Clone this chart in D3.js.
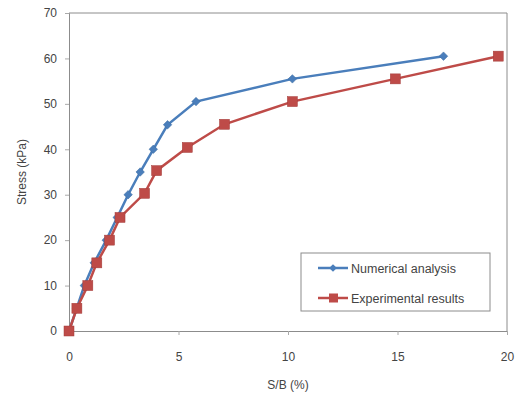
<!DOCTYPE html>
<html>
<head>
<meta charset="utf-8">
<script src="https://cdn.jsdelivr.net/npm/d3@7"></script>
<style>
  body { margin: 0; background: #fff; }
  text { font-family: "Liberation Sans", Arial, sans-serif; fill: #444; }
</style>
</head>
<body>
<div id="chart"></div>
<script>
// data
const numStress = [0, 5, 10, 15, 20, 25, 30, 35, 40, 45.4, 50.5, 55.5, 60.5];
const numSB = [0, 0.35, 0.7, 1.15, 1.7, 2.2, 2.7, 3.25, 3.85, 4.5, 5.8, 10.2, 17.1];
const expStress = [0, 5, 10, 15, 20, 25, 30.3, 35.3, 40.4, 45.5, 50.5, 55.5, 60.5];
const expSB = [0, 0.36, 0.86, 1.27, 1.85, 2.33, 3.45, 4.0, 5.4, 7.1, 10.2, 14.9, 19.6];
const xTicks = [0, 5, 10, 15, 20];
const yTicks = [0, 10, 20, 30, 40, 50, 60, 70];
const seriesNames = ["Numerical analysis", "Experimental results"];

const W = 517, H = 401;
const margin = { left: 69, right: 10, top: 13, bottom: 70 };

const svg = d3.select("#chart")
  .append("svg")
  .attr("width", W)
  .attr("height", H);

const x = d3.scaleLinear().domain([0, 20]).range([margin.left, W - margin.right]);
const y = d3.scaleLinear().domain([0, 70]).range([H - margin.bottom, margin.top]);

// plot frame (top + right)
svg.append("path")
  .attr("d", `M${x(0)},${y(70)}H${x(20)}V${y(0)}`)
  .attr("fill", "none")
  .attr("stroke", "#8c8c8c")
  .attr("stroke-width", 1);

// axes
const xAxis = svg.append("g")
  .attr("transform", `translate(0,${y(0)})`)
  .call(d3.axisBottom(x).tickValues(xTicks).tickSize(4).tickPadding(17));
const yAxis = svg.append("g")
  .attr("transform", `translate(${x(0)},0)`)
  .call(d3.axisLeft(y).tickValues(yTicks).tickSize(4).tickPadding(8));

[xAxis, yAxis].forEach(g => {
  g.select(".domain").attr("stroke", "#8c8c8c");
  g.selectAll(".tick line").attr("stroke", "#aaa");
  g.selectAll(".tick text").attr("font-size", 12).attr("fill", "#444");
});

// axis titles
svg.append("text")
  .attr("x", (x(0) + x(20)) / 2)
  .attr("y", 389)
  .attr("text-anchor", "middle")
  .attr("font-size", 12)
  .text("S/B (%)");

svg.append("text")
  .attr("transform", `translate(26,${(y(0) + y(70)) / 2}) rotate(-90)`)
  .attr("text-anchor", "middle")
  .attr("font-size", 12)
  .text("Stress (kPa)");

const line = d3.line().x(d => x(d[0])).y(d => y(d[1]));

const numData = numSB.map((v, i) => [v, numStress[i]]);
const expData = expSB.map((v, i) => [v, expStress[i]]);

const blue = "#4a7ebb", red = "#be4b48";
const diamond = d3.symbol(d3.symbolSquare, 36);

// numerical series
svg.append("path")
  .datum(numData)
  .attr("fill", "none")
  .attr("stroke", blue)
  .attr("stroke-width", 2.5)
  .attr("d", line);
svg.selectAll("path.num")
  .data(numData)
  .enter()
  .append("path")
  .attr("class", "num")
  .attr("d", diamond)
  .attr("transform", d => `translate(${x(d[0])},${y(d[1])}) rotate(45)`)
  .attr("fill", blue)
  .attr("stroke", "#3b6aa0")
  .attr("stroke-width", 0.5);

// experimental series
svg.append("path")
  .datum(expData)
  .attr("fill", "none")
  .attr("stroke", red)
  .attr("stroke-width", 2.5)
  .attr("d", line);
svg.selectAll("rect.exp")
  .data(expData)
  .enter()
  .append("rect")
  .attr("class", "exp")
  .attr("x", d => x(d[0]) - 5)
  .attr("y", d => y(d[1]) - 5)
  .attr("width", 10)
  .attr("height", 10)
  .attr("fill", red)
  .attr("stroke", "#a33d3a")
  .attr("stroke-width", 0.5);

// legend
const lg = svg.append("g").attr("transform", "translate(301,253)");
lg.append("rect")
  .attr("width", 189)
  .attr("height", 58)
  .attr("fill", "#fff")
  .attr("stroke", "#8c8c8c");

seriesNames.forEach((name, i) => {
  const cy = 15 + i * 30;
  const col = i === 0 ? blue : red;
  lg.append("line")
    .attr("x1", 17).attr("x2", 47)
    .attr("y1", cy).attr("y2", cy)
    .attr("stroke", col)
    .attr("stroke-width", 2.5);
  if (i === 0) {
    lg.append("path")
      .attr("d", d3.symbol(d3.symbolSquare, 30))
      .attr("transform", `translate(32,${cy}) rotate(45)`)
      .attr("fill", col);
  } else {
    lg.append("rect")
      .attr("x", 28).attr("y", cy - 4.5)
      .attr("width", 9).attr("height", 9)
      .attr("fill", col);
  }
  lg.append("text")
    .attr("x", 50)
    .attr("y", cy + 4.5)
    .attr("font-size", 12.5)
    .attr("fill", "#333")
    .text(name);
});
</script>
</body>
</html>
